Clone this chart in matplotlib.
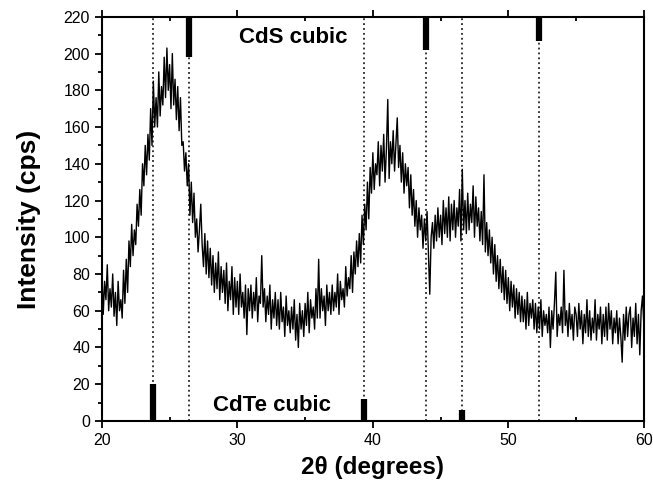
import matplotlib as mpl
mpl.use('Agg')
import matplotlib.pyplot as plt
import numpy as np

plt.rcParams['font.family'] = ['Liberation Sans', 'DejaVu Sans']

# XRD scan, 20-60 deg in 0.1 deg steps (one row per degree)
two_theta = np.round(np.arange(20.0, 60.05, 0.1), 1)
intensity = [
    82, 58, 76, 66, 85, 60, 72, 62, 80, 57,
    70, 52, 76, 60, 66, 56, 82, 64, 88, 70,
    98, 84, 107, 90, 104, 96, 118, 106, 126, 112,
    140, 128, 150, 134, 156, 142, 170, 150, 185, 160,
    176, 160, 190, 166, 182, 172, 198, 176, 203, 180,
    194, 170, 200, 172, 186, 164, 182, 158, 176, 150,
    152, 136, 146, 128, 140, 112, 130, 108, 124, 100,
    110, 92, 104, 118, 96, 84, 102, 80, 98, 78,
    94, 74, 90, 70, 86, 72, 92, 66, 84, 70,
    82, 64, 86, 60, 76, 66, 84, 58, 78, 62,
    76, 58, 80, 62, 70, 56, 74, 47, 72, 60,
    74, 56, 70, 60, 78, 54, 68, 64, 90, 62,
    72, 54, 68, 58, 74, 50, 66, 56, 70, 52,
    66, 50, 70, 54, 62, 46, 68, 52, 60, 48,
    62, 50, 66, 44, 58, 40, 64, 50, 60, 46,
    64, 52, 70, 48, 66, 56, 62, 50, 72, 56,
    88, 56, 72, 60, 68, 52, 74, 60, 70, 58,
    74, 60, 70, 62, 80, 58, 76, 66, 72, 62,
    84, 68, 78, 72, 90, 70, 92, 80, 98, 84,
    102, 86, 112, 96, 118, 104, 130, 110, 138, 124,
    146, 126, 140, 134, 152, 128, 150, 136, 156, 130,
    148, 175, 132, 152, 140, 158, 136, 150, 165, 138,
    150, 130, 146, 124, 140, 128, 138, 116, 134, 112,
    126, 106, 120, 100, 116, 104, 112, 94, 110, 98,
    114, 92, 69, 100, 108, 94, 112, 98, 116, 100,
    112, 96, 120, 102, 116, 100, 122, 98, 118, 104,
    120, 100, 116, 106, 126, 98, 137, 104, 120, 102,
    124, 104, 118, 108, 128, 100, 122, 106, 116, 98,
    114, 96, 134, 92, 108, 90, 104, 86, 100, 80,
    96, 76, 90, 72, 88, 70, 84, 66, 82, 64,
    78, 60, 76, 62, 74, 56, 72, 58, 70, 54,
    68, 54, 66, 50, 70, 52, 64, 56, 66, 50,
    64, 48, 62, 50, 66, 46, 60, 52, 58, 48,
    62, 40, 60, 50, 64, 81, 46, 58, 52, 62,
    48, 82, 52, 60, 46, 64, 50, 58, 44, 62,
    58, 46, 64, 50, 60, 42, 58, 48, 66, 46,
    60, 44, 56, 48, 66, 44, 58, 50, 62, 42,
    58, 46, 62, 44, 64, 50, 60, 42, 56, 48,
    60, 42, 56, 46, 32, 58, 44, 62, 46, 58,
    62, 40, 56, 46, 64, 42, 58, 36, 60, 68,
    52,
]

# reference patterns
cdte_pos = [23.75, 39.31, 46.55]
cdte_int = [20, 12, 6]
cds_pos = [26.45, 43.9, 52.25]
cds_low = [198, 202, 207]

fig = plt.figure(figsize=(6.53, 4.8), dpi=100)
ax = fig.add_axes([0.156, 0.123, 0.830, 0.842])

for p in cdte_pos + cds_pos:
    ax.axvline(p, color='k', ls=(0, (1.2, 2)), lw=1.1, zorder=1)

ax.plot(two_theta, intensity, color='k', lw=1.0, zorder=2)

ax.vlines(cdte_pos, 0, cdte_int, color='k', lw=4.5, zorder=3)
ax.vlines(cds_pos, cds_low, 220, color='k', lw=4.5, zorder=3)

ax.text(34.1, 208.5, 'CdS cubic', fontsize=16, fontweight='bold', ha='center', va='center')
ax.text(32.55, 8.2, 'CdTe cubic', fontsize=16, fontweight='bold', ha='center', va='center')

ax.set_xlim(20, 60)
ax.set_ylim(0, 220)
ax.set_xticks([20, 30, 40, 50, 60])
ax.set_xticks([25, 35, 45, 55], minor=True)
ax.set_yticks(range(0, 221, 20))
ax.set_yticks(range(10, 220, 20), minor=True)

ax.tick_params(axis='x', which='major', direction='out', length=5, width=1.3, labelsize=11.5, top=True)
ax.tick_params(axis='x', which='minor', direction='in', length=3, width=1.3, top=True)
ax.tick_params(axis='y', which='major', direction='out', length=5, width=1.3, labelsize=11.5)
ax.tick_params(axis='y', which='minor', direction='out', length=3, width=1.3)
for s in ax.spines.values():
    s.set_linewidth(1.5)

ax.set_xlabel('2θ (degrees)', fontsize=17.5, fontweight='bold', labelpad=6)
ax.set_ylabel('Intensity (cps)', fontsize=19, fontweight='bold', labelpad=16)

plt.savefig('out.png', dpi=100)
